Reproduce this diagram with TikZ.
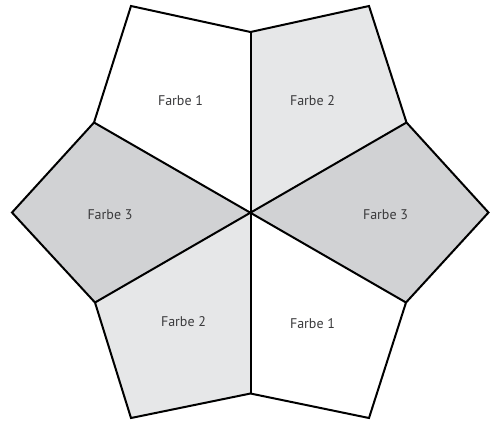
\documentclass[tikz,border=0pt]{standalone}
\usepackage{fontspec}
\setmainfont{PT Sans}
\definecolor{farbeA}{HTML}{FFFFFF}
\definecolor{farbeB}{HTML}{E6E7E8}
\definecolor{farbeC}{HTML}{D1D2D4}
\definecolor{txt}{HTML}{3A3A3C}
\tikzset{
  piece/.style={draw=black, line width=2bp, line join=miter},
  lbl/.style={text=txt, font=\fontsize{14bp}{16bp}\selectfont, inner sep=0pt}
}
\begin{document}
\begin{tikzpicture}[x=1bp,y=-1bp]
\useasboundingbox (0,0) rectangle (497,423);
\coordinate (C) at (250,212.5);
\coordinate (T) at (250.5,32);
\coordinate (B) at (250.5,393.5);
\coordinate (TL) at (131,6);
\coordinate (TR) at (369,6);
\coordinate (BL) at (131,418);
\coordinate (BR) at (369,418);
\coordinate (UL) at (94,122.5);
\coordinate (UR) at (406.5,122.5);
\coordinate (LL) at (95,302.5);
\coordinate (LR) at (406,302.5);
\coordinate (L) at (12,212.5);
\coordinate (R) at (488.5,212.5);
\fill[farbeA] (UL) -- (TL) -- (T) -- (C) -- cycle;
\fill[farbeB] (T) -- (TR) -- (UR) -- (C) -- cycle;
\fill[farbeC] (UR) -- (R) -- (LR) -- (C) -- cycle;
\fill[farbeA] (C) -- (LR) -- (BR) -- (B) -- cycle;
\fill[farbeB] (C) -- (B) -- (BL) -- (LL) -- cycle;
\fill[farbeC] (C) -- (LL) -- (L) -- (UL) -- cycle;
\draw[piece] (T) -- (TL) -- (UL) -- (L) -- (LL) -- (BL) -- (B) -- (BR) -- (LR) -- (R) -- (UR) -- (TR) -- cycle;
\draw[piece] (T) -- (B);
\draw[piece] (UL) -- (LR);
\draw[piece] (UR) -- (LL);
\node[lbl] (f1a) at (180.5,101) {Farbe 1};
\node[lbl] (f2a) at (312.5,101) {Farbe 2};
\node[lbl] (f3a) at (110,215) {Farbe 3};
\node[lbl] (f3b) at (385.5,215) {Farbe 3};
\node[lbl] (f2b) at (183.5,322) {Farbe 2};
\node[lbl] (f1b) at (312.5,323.5) {Farbe 1};
\end{tikzpicture}
\end{document}
